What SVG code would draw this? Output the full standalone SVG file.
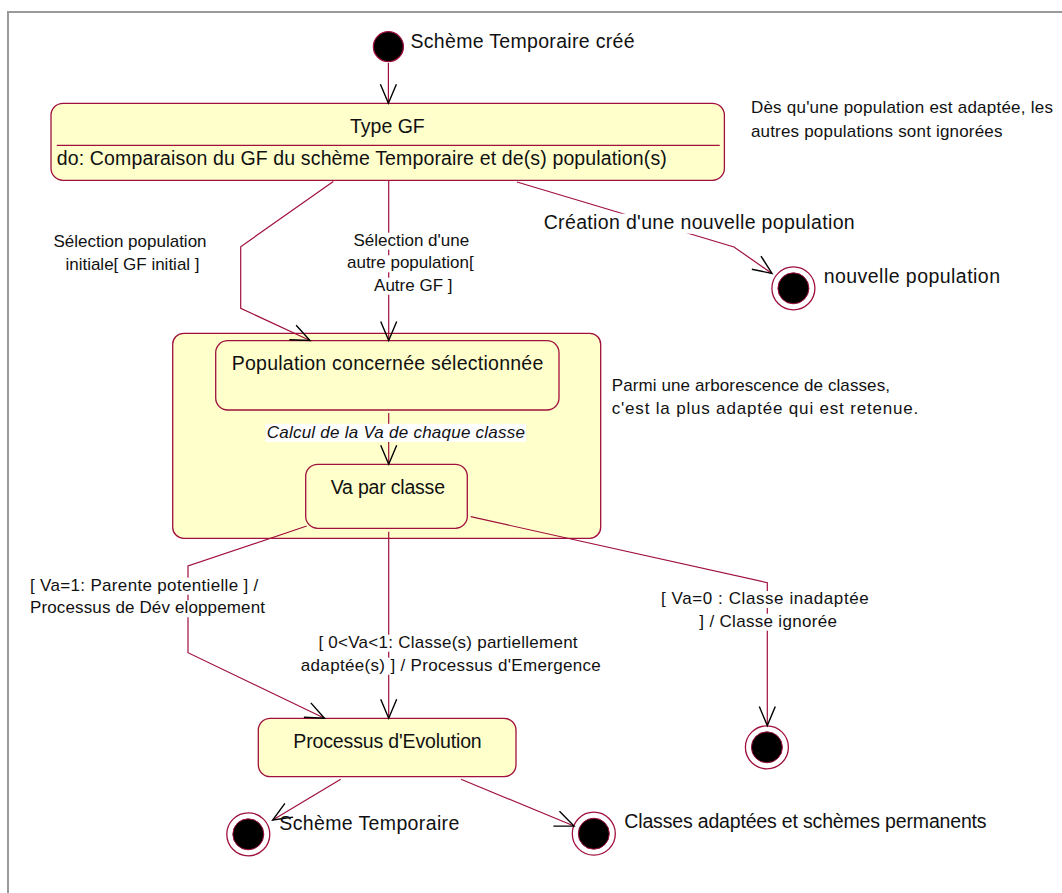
<svg xmlns="http://www.w3.org/2000/svg" width="1062" height="893" viewBox="0 0 1062 893">
  <style>
    .frame{fill:none;stroke:#9a9a9a;stroke-width:2}
    .state{fill:#ffffcc;stroke:#a0103c;stroke-width:1.3}
    .sep{stroke:#a0103c;stroke-width:1.2}
    .conn{fill:none;stroke:#a0103c;stroke-width:1.2}
    .start{fill:#000;stroke:#a0103c;stroke-width:1.3}
    .ring{fill:#fff;stroke:#a0103c;stroke-width:1.3}
    .dot{fill:#000;stroke:#a0103c;stroke-width:1}
    .bg{fill:#fff}
    text{font-family:"Liberation Sans",Arial,sans-serif;fill:#111}
    .name{font-size:19.5px}
    .lbl{font-size:17px}
    .ital{font-style:italic}
  </style>
  <defs>
    <marker id="open" markerUnits="userSpaceOnUse" viewBox="-21 -10 22 20" markerWidth="22" markerHeight="20" refX="0" refY="0" orient="auto" overflow="visible">
      <path d="M-19,-8 L0,0 L-19,8" fill="none" stroke="#000" stroke-width="1.4"/>
    </marker>
  </defs>

  <!-- diagram frame -->
  <path class="frame" d="M8,893 L8,12 L1062,12"/>

  <!-- states -->
  <g id="initial">
    <circle class="start" cx="388.4" cy="46.7" r="15"/>
    <text class="name" x="410.5" y="48.3" textLength="224" lengthAdjust="spacing">Schème Temporaire créé</text>
  </g>

  <g id="type-gf">
    <rect class="state" x="51" y="103.3" width="673.4" height="77" rx="12"/>
    <line class="sep" x1="56.8" y1="145.3" x2="719.7" y2="145.3"/>
    <text class="name" x="387.4" y="133.3" text-anchor="middle">Type GF</text>
    <text class="name" x="56.8" y="165" textLength="610" lengthAdjust="spacing">do: Comparaison du GF du schème Temporaire et de(s) population(s)</text>
  </g>

  <g id="note-population">
    <text class="lbl" x="750.9" y="113.3" textLength="302" lengthAdjust="spacing">Dès qu'une population est adaptée, les</text>
    <text class="lbl" x="750.9" y="136.7" textLength="251.6" lengthAdjust="spacing">autres populations sont ignorées</text>
  </g>

  <g id="end-new-population">
    <circle class="ring" cx="793.4" cy="288.3" r="21.5"/>
    <circle class="dot" cx="793.4" cy="288.3" r="15.5"/>
    <text class="name" x="823.7" y="283.3" textLength="176.3" lengthAdjust="spacing">nouvelle population</text>
  </g>

  <g id="population-composite">
    <rect class="state" x="172.7" y="333.3" width="428" height="205" rx="11"/>
  </g>

  <g id="population-selected">
    <rect class="state" x="215.7" y="340.7" width="343.3" height="69.3" rx="12"/>
    <text class="name" x="231.7" y="370" textLength="311.6" lengthAdjust="spacing">Population concernée sélectionnée</text>
  </g>

  <g id="va-per-class">
    <rect class="state" x="305.7" y="464.3" width="161.6" height="64" rx="12"/>
    <text class="name" x="330.7" y="494" textLength="114.3" lengthAdjust="spacing">Va par classe</text>
  </g>

  <g id="note-classes">
    <text class="lbl" x="611.7" y="390.7" textLength="278.3" lengthAdjust="spacing">Parmi une arborescence de classes,</text>
    <text class="lbl" x="611.7" y="414.3" textLength="306.6" lengthAdjust="spacing">c'est la plus adaptée qui est retenue.</text>
  </g>

  <g id="evolution">
    <rect class="state" x="258.3" y="718.3" width="257.7" height="58.4" rx="12"/>
    <text class="name" x="293.3" y="748.3" textLength="188.4" lengthAdjust="spacing">Processus d'Evolution</text>
  </g>

  <g id="end-ignored">
    <circle class="ring" cx="766.9" cy="747.3" r="21.5"/>
    <circle class="dot" cx="766.9" cy="747.3" r="15.5"/>
  </g>

  <g id="end-temporary">
    <circle class="ring" cx="248.3" cy="834.3" r="21.5"/>
    <circle class="dot" cx="248.3" cy="834.3" r="15.5"/>
  </g>

  <g id="end-permanent">
    <circle class="ring" cx="593.8" cy="833.7" r="21.5"/>
    <circle class="dot" cx="593.8" cy="833.7" r="15.5"/>
  </g>

  <!-- transitions -->
  <g id="connectors">
    <path class="conn" marker-end="url(#open)" d="M388.4,63 L388.4,103.3"/>
    <path class="conn" marker-end="url(#open)" d="M333.3,181.5 L240.7,246.7 L240.7,308.3 L310,340.5"/>
    <path class="conn" marker-end="url(#open)" d="M388.7,181 L388.7,340.5"/>
    <path class="conn" marker-end="url(#open)" d="M517,182 L734,247 L772,273.5"/>
    <path class="conn" marker-end="url(#open)" d="M388.7,413 L388.7,464.3"/>
    <path class="conn" marker-end="url(#open)" d="M306.7,526 L188,566 L188,652.7 L324.5,718.3"/>
    <path class="conn" marker-end="url(#open)" d="M388.7,531.7 L388.7,718.3"/>
    <path class="conn" marker-end="url(#open)" d="M470.7,516.7 L767.3,582.7 L767.3,725.6"/>
    <path class="conn" marker-end="url(#open)" d="M340.7,779.3 L272.7,820"/>
    <path class="conn" marker-end="url(#open)" d="M461,779.3 L574,826"/>
  </g>

  <!-- transition labels -->
  <g id="labels">
    <text class="lbl" x="130" y="246.7" text-anchor="middle">Sélection population</text>
    <text class="lbl" x="132.5" y="270" text-anchor="middle">initiale[ GF initial ]</text>

    <rect class="bg" x="351" y="232.7" width="121" height="17"/>
    <rect class="bg" x="345" y="255.3" width="131" height="17"/>
    <rect class="bg" x="372" y="277.7" width="83" height="17"/>
    <text class="lbl" x="411.3" y="245.7" text-anchor="middle">Sélection d'une</text>
    <text class="lbl" x="410.3" y="268.3" text-anchor="middle">autre population[</text>
    <text class="lbl" x="413.3" y="290.7" text-anchor="middle">Autre GF ]</text>

    <rect class="bg" x="542" y="213.7" width="314" height="20"/>
    <text class="name" x="543.7" y="228.7" textLength="311" lengthAdjust="spacing">Création d'une nouvelle population</text>

    <rect class="bg" x="265.5" y="423.8" width="260.5" height="18.2"/>
    <text class="lbl ital" x="266.7" y="438.3" textLength="258.3" lengthAdjust="spacing">Calcul de la Va de chaque classe</text>

    <rect class="bg" x="29" y="577.7" width="231" height="17"/>
    <rect class="bg" x="29" y="600.3" width="237" height="17"/>
    <text class="lbl" x="30" y="590.7" textLength="228.3" lengthAdjust="spacing">[ Va=1: Parente potentielle ] /</text>
    <text class="lbl" x="30" y="613.3" textLength="235" lengthAdjust="spacing">Processus de Dév eloppement</text>

    <rect class="bg" x="317" y="634.7" width="262" height="17"/>
    <rect class="bg" x="299.5" y="657.7" width="302.5" height="17"/>
    <text class="lbl" x="318.4" y="647.7" textLength="259.2" lengthAdjust="spacing">[ 0&lt;Va&lt;1: Classe(s) partiellement</text>
    <text class="lbl" x="300.8" y="670.7" textLength="300" lengthAdjust="spacing">adaptée(s) ] / Processus d'Emergence</text>

    <rect class="bg" x="660" y="591" width="210" height="17"/>
    <rect class="bg" x="698" y="613.7" width="140.5" height="17"/>
    <text class="lbl" x="661" y="604" textLength="207.7" lengthAdjust="spacing">[ Va=0  : Classe inadaptée</text>
    <text class="lbl" x="699.3" y="626.7" textLength="137.7" lengthAdjust="spacing">] / Classe ignorée</text>

    <text class="name" x="279.3" y="830" textLength="180" lengthAdjust="spacing">Schème Temporaire</text>
    <text class="name" x="624.3" y="828.3" textLength="362.3" lengthAdjust="spacing">Classes adaptées et schèmes permanents</text>
  </g>
</svg>
